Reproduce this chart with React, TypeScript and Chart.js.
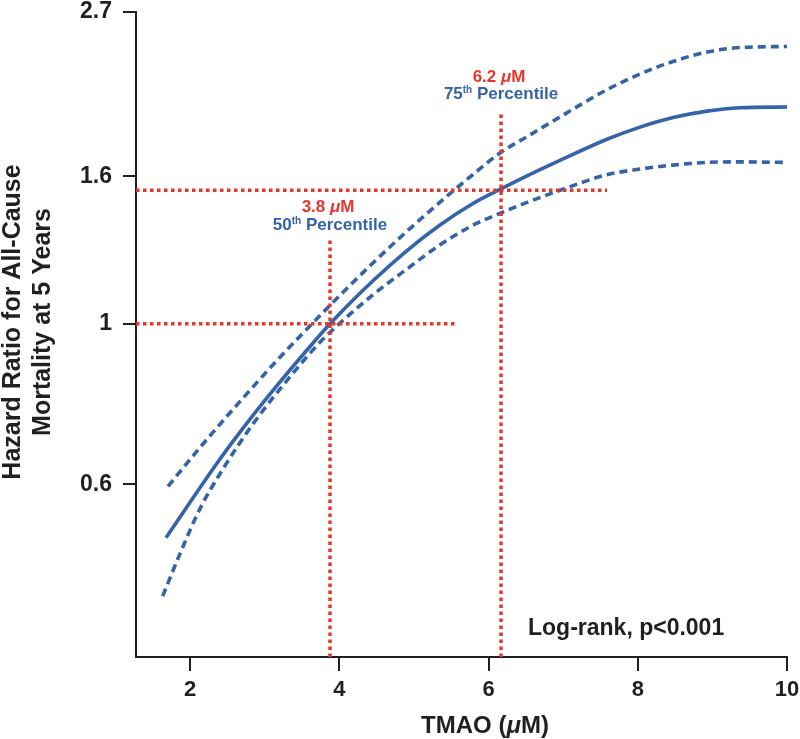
import React, { useEffect, useRef } from "react";
import { Chart, registerables } from "chart.js";

Chart.register(...registerables);

// ---- data ----
const solidX = [1.678, 2.402, 2.804, 3.206, 3.568, 3.876, 4.452, 4.908, 5.35, 5.792, 6.168, 6.516, 6.958, 7.588, 8.03, 8.472, 8.928, 9.37, 10];
const solidHR = [0.506, 0.65, 0.738, 0.831, 0.92, 1.0, 1.147, 1.263, 1.37, 1.467, 1.537, 1.602, 1.683, 1.8, 1.871, 1.929, 1.969, 1.99, 1.995];

const upperX = [1.705, 2.174, 2.67, 3.166, 3.568, 3.916, 4.452, 4.908, 5.35, 5.792, 6.168, 6.516, 6.918, 7.588, 8.03, 8.472, 8.928, 9.37, 10];
const upperHR = [0.596, 0.682, 0.781, 0.89, 0.984, 1.071, 1.214, 1.343, 1.473, 1.609, 1.727, 1.815, 1.922, 2.108, 2.216, 2.306, 2.377, 2.411, 2.419];

const lowerX = [1.634, 1.866, 2.134, 2.442, 2.844, 3.3, 3.742, 4.05, 4.452, 4.908, 5.35, 5.792, 6.168, 6.516, 6.918, 7.588, 8.03, 8.472, 8.928, 9.37, 10];
const lowerHR = [0.42, 0.481, 0.555, 0.63, 0.727, 0.835, 0.943, 1.011, 1.097, 1.191, 1.286, 1.369, 1.424, 1.472, 1.525, 1.608, 1.637, 1.658, 1.672, 1.675, 1.672];

// percentile reference lines
const percentileX = [3.876, 6.168];
const percentileHR = [1.0, 1.53];
const horizontalEndX = [5.551, 7.588];
const verticalTopHR = [1.312, 1.96];
const percentileValueLabels = ["3.8 ", "6.2 "];
const percentileRankLabels = ["50", "75"];

const xTicks = [2, 4, 6, 8, 10];
const yTickValues = [0.6, 1, 1.6, 2.7];
const yTickLabels = ["0.6", "1", "1.6", "2.7"];
const xMin = 1.276;
const xMax = 10;
const yMin = 0.346;
const yMax = 2.7;

const FONT = "'Liberation Sans', Arial, Helvetica, sans-serif";
const BLUE = "#3463a8";
const RED = "#e8352b";
const INK = "#231f20";

type Run = { text: string; size: number; italic?: boolean; color: string; dy?: number };

function drawRuns(ctx: CanvasRenderingContext2D, runs: Run[], cx: number, baseline: number) {
  const fontOf = (r: Run) => `${r.italic ? "italic " : ""}bold ${r.size}px ${FONT}`;
  let total = 0;
  for (const r of runs) {
    ctx.font = fontOf(r);
    total += ctx.measureText(r.text).width;
  }
  let x = cx - total / 2;
  ctx.textAlign = "left";
  ctx.textBaseline = "alphabetic";
  for (const r of runs) {
    ctx.font = fontOf(r);
    ctx.fillStyle = r.color;
    ctx.fillText(r.text, x, baseline + (r.dy || 0));
    x += ctx.measureText(r.text).width;
  }
}

const textPlugin = {
  id: "textPlugin",
  afterDraw(chart: any) {
    const ctx: CanvasRenderingContext2D = chart.ctx;
    const xs = chart.scales.x;
    const ys = chart.scales.y;
    ctx.save();

    // percentile labels
    const gaps = [[-27, -9], [-31, -14]];
    percentileX.forEach((px, i) => {
      const cx = xs.getPixelForValue(px);
      const top = ys.getPixelForValue(verticalTopHR[i]);
      drawRuns(ctx, [
        { text: percentileValueLabels[i], size: 17, color: RED },
        { text: "\u03bc", size: 17, italic: true, color: RED },
        { text: "M", size: 17, color: RED },
      ], cx - 2, top + gaps[i][0]);
      drawRuns(ctx, [
        { text: percentileRankLabels[i], size: 17, color: BLUE },
        { text: "th", size: 10, color: BLUE, dy: -6 },
        { text: " Percentile", size: 17, color: BLUE },
      ], cx, top + gaps[i][1]);
    });

    // log-rank note
    ctx.font = `bold 23px ${FONT}`;
    ctx.fillStyle = INK;
    ctx.textAlign = "left";
    ctx.textBaseline = "alphabetic";
    ctx.fillText("Log-rank, p<0.001", 528, 635);

    // x axis title
    drawRuns(ctx, [
      { text: "TMAO (", size: 24, color: INK },
      { text: "\u03bc", size: 24, italic: true, color: INK },
      { text: "M)", size: 24, color: INK },
    ], 485, 733);

    // y axis title
    ctx.translate(0, 322);
    ctx.rotate(-Math.PI / 2);
    ctx.font = `bold 25px ${FONT}`;
    ctx.fillStyle = INK;
    ctx.textAlign = "center";
    ctx.fillText("Hazard Ratio for All-Cause", 0, 20);
    ctx.fillText("Mortality at 5 Years", 0, 50);
    ctx.restore();
  },
};

function pts(xs: number[], ys: number[]) {
  return xs.map((x, i) => ({ x, y: ys[i] }));
}

export default function App() {
  const ref = useRef<HTMLCanvasElement | null>(null);

  useEffect(() => {
    if (!ref.current) return;
    const redLine = (data: { x: number; y: number }[]) => ({
      data,
      borderColor: RED,
      borderWidth: 3.5,
      borderDash: [3.5, 3.5],
      borderCapStyle: "butt" as const,
      tension: 0,
      pointRadius: 0,
      fill: false,
    });
    const blueLine = (data: { x: number; y: number }[], dashed: boolean) => ({
      data,
      borderColor: BLUE,
      borderWidth: 3.6,
      borderDash: dashed ? [8, 5] : [],
      cubicInterpolationMode: "monotone" as const,
      pointRadius: 0,
      fill: false,
    });
    const datasets: any[] = [];
    percentileX.forEach((px, i) => {
      datasets.push(redLine([{ x: xMin, y: percentileHR[i] }, { x: horizontalEndX[i], y: percentileHR[i] }]));
      datasets.push(redLine([{ x: px, y: yMin }, { x: px, y: verticalTopHR[i] }]));
    });
    datasets.push(blueLine(pts(solidX, solidHR), false));
    datasets.push(blueLine(pts(upperX, upperHR), true));
    datasets.push(blueLine(pts(lowerX, lowerHR), true));

    const chart = new Chart(ref.current, {
      type: "line",
      data: { datasets },
      plugins: [textPlugin],
      options: {
        animation: false,
        responsive: false,
        maintainAspectRatio: false,
        parsing: false as any,
        layout: { padding: { top: 12, right: 13, left: 0, bottom: 0 } },
        plugins: { legend: { display: false }, tooltip: { enabled: false } },
        scales: {
          x: {
            type: "linear",
            min: xMin,
            max: xMax,
            afterBuildTicks: (s: any) => {
              s.ticks = xTicks.map((v) => ({ value: v }));
              s.min = xMin;
              s.max = xMax;
            },
            afterFit: (s: any) => {
              s.height = 82;
              s.paddingLeft = 0;
              s.paddingRight = 0;
            },
            grid: { drawOnChartArea: false, drawTicks: true, tickLength: 14, color: INK, lineWidth: 2 },
            border: { display: true, color: INK, width: 2 },
            ticks: {
              autoSkip: false,
              maxRotation: 0,
              padding: 6,
              color: INK,
              font: { family: FONT, weight: "bold", size: 22 },
              callback: (v: any) => String(v),
            },
          },
          y: {
            type: "logarithmic",
            min: yMin,
            max: yMax,
            afterBuildTicks: (s: any) => {
              s.ticks = yTickValues.map((v) => ({ value: v }));
              s.min = yMin;
              s.max = yMax;
            },
            afterFit: (s: any) => {
              s.width = 136;
              s.paddingTop = 0;
              s.paddingBottom = 0;
            },
            grid: { drawOnChartArea: false, drawTicks: true, tickLength: 13, color: INK, lineWidth: 2 },
            border: { display: true, color: INK, width: 2 },
            ticks: {
              autoSkip: false,
              padding: 11,
              color: INK,
              font: { family: FONT, weight: "bold", size: 23 },
              callback: (_v: any, i: number) => yTickLabels[i],
            },
          },
        },
      },
    });
    return () => chart.destroy();
  }, []);

  return (
    <div style={{ position: "absolute", left: 0, top: 0, width: 800, height: 739, background: "#fff" }}>
      <canvas ref={ref} width={800} height={739} style={{ display: "block" }} />
    </div>
  );
}
